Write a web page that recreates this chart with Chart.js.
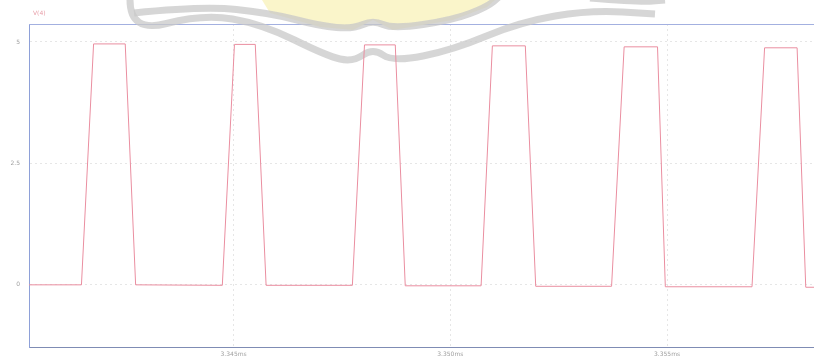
<!DOCTYPE html>
<html>
<head>
<meta charset="utf-8">
<script src="https://cdn.jsdelivr.net/npm/chart.js@4.4.1/dist/chart.umd.min.js"></script>
<style>
  html, body { margin: 0; padding: 0; background: #fff; }
  #wrap { width: 814px; height: 360px; position: relative; }
</style>
</head>
<body>
<div id="wrap"><canvas id="chart"></canvas></div>
<script>
// time in microseconds, voltage in volts
const timeUs = [
  3340.28,
  3341.49, 3341.77, 3342.50, 3342.74,
  3344.74, 3345.02, 3345.50, 3345.75,
  3347.74, 3348.02, 3348.73, 3348.96,
  3350.71, 3350.97, 3351.73, 3351.97,
  3353.72, 3354.01, 3354.78, 3354.96,
  3356.96, 3357.25, 3358.00, 3358.20,
  3358.39
]
const voltage = [
  0,
  0, 4.96, 4.96, 0,
  -0.01, 4.95, 4.95, -0.01,
  -0.01, 4.94, 4.94, -0.02,
  -0.02, 4.92, 4.92, -0.03,
  -0.03, 4.90, 4.90, -0.04,
  -0.04, 4.88, 4.88, -0.05,
  -0.05
]
const xTickValues = [3345, 3350, 3355]
const xTickLabels = ["3.345ms", "3.350ms", "3.355ms"]
const yTickValues = [0, 2.5, 5]
const yTickLabels = ["0", "2.5", "5"]
const traceName = "V(4)"

const points = timeUs.map((t, i) => ({ x: t, y: voltage[i] }))

// scanned page watermark behind the trace, plus the frame's top edge and trace name
const decor = {
  id: "decor",
  beforeDatasetsDraw(chart) {
    const { ctx, chartArea } = chart
    ctx.save()
    ctx.strokeStyle = "#a3b0e0"
    ctx.lineWidth = 1
    ctx.beginPath()
    ctx.moveTo(chartArea.left, chartArea.top + 0.5)
    ctx.lineTo(chartArea.right, chartArea.top + 0.5)
    ctx.stroke()

    // pale yellow centre of the watermark
    ctx.fillStyle = "rgba(250, 244, 196, 0.9)"
    ctx.beginPath()
    ctx.moveTo(262, 0)
    ctx.lineTo(270, 13); ctx.lineTo(320, 27); ctx.lineTo(353, 30)
    ctx.lineTo(373, 20); ctx.lineTo(393, 30); ctx.lineTo(453, 20)
    ctx.lineTo(487, 7); ctx.lineTo(495, 0)
    ctx.closePath()
    ctx.fill()

    ctx.strokeStyle = "rgba(200, 200, 200, 0.75)"
    ctx.lineWidth = 7
    ctx.lineJoin = "round"
    ctx.lineCap = "butt"
    const band = (pts) => {
      ctx.beginPath()
      ctx.moveTo(pts[0][0], pts[0][1])
      for (let i = 1; i < pts.length - 1; i++) {
        const mx = (pts[i][0] + pts[i + 1][0]) / 2
        const my = (pts[i][1] + pts[i + 1][1]) / 2
        ctx.quadraticCurveTo(pts[i][0], pts[i][1], mx, my)
      }
      const last = pts[pts.length - 1]
      ctx.lineTo(last[0], last[1])
      ctx.stroke()
    }
    band([[130, 0], [130, 33], [203, 14], [262, 24], [327, 56], [353, 62], [373, 48], [393, 62], [453, 50], [520, 22], [590, 10], [655, 14]])
    band([[134, 13], [203, 6], [270, 13], [320, 26], [353, 29], [373, 20], [393, 29], [453, 20], [487, 7], [500, -4]])
    band([[590, -2], [640, 2], [665, 0]])
    ctx.restore()
  },
  afterDraw(chart) {
    const { ctx, chartArea } = chart
    ctx.save()
    ctx.fillStyle = "#e8a0aa"
    ctx.font = "6px 'DejaVu Sans'"
    ctx.textBaseline = "bottom"
    ctx.fillText(traceName, chartArea.left + 4, chartArea.top - 8)
    ctx.restore()
  }
}

new Chart(document.getElementById("chart"), {
  type: "line",
  data: {
    datasets: [{
      label: traceName,
      data: points,
      borderColor: "#ea8ea0",
      borderWidth: 1,
      pointRadius: 0,
      tension: 0,
      fill: false
    }]
  },
  options: {
    responsive: true,
    maintainAspectRatio: false,
    animation: false,
    layout: { padding: { top: 24, right: 0, left: 0, bottom: 0 } },
    plugins: {
      legend: { display: false },
      tooltip: { enabled: false }
    },
    scales: {
      x: {
        type: "linear",
        min: 3340.28,
        max: 3358.39,
        afterBuildTicks: (axis) => { axis.ticks = xTickValues.map(v => ({ value: v })) },
        afterFit: (axis) => { axis.height = 13 },
        ticks: {
          callback: (v) => xTickLabels[xTickValues.indexOf(v)],
          color: "#a0a0a0",
          font: { size: 6, family: "DejaVu Sans" },
          padding: 4,
          maxRotation: 0
        },
        grid: { color: "#e6e6e6", lineWidth: 1, drawTicks: false },
        border: { color: "#7f8cb4", width: 1, dash: [2, 3] }
      },
      y: {
        type: "linear",
        min: -1.28,
        max: 5.37,
        afterBuildTicks: (axis) => { axis.ticks = yTickValues.map(v => ({ value: v })) },
        afterFit: (axis) => { axis.width = 29 },
        ticks: {
          callback: (v) => yTickLabels[yTickValues.indexOf(v)],
          color: "#a0a0a0",
          font: { size: 6, family: "DejaVu Sans" },
          padding: 9
        },
        grid: { color: "#e6e6e6", lineWidth: 1, drawTicks: false },
        border: { color: "#8ea0d8", width: 1, dash: [2, 3] }
      }
    }
  },
  plugins: [decor]
})
</script>
</body>
</html>
